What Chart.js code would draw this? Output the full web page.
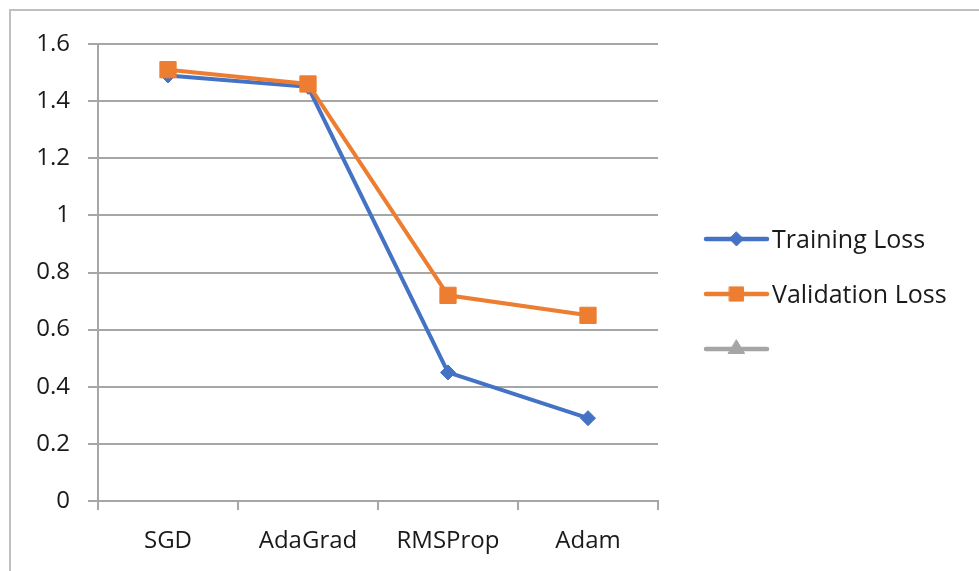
<!DOCTYPE html>
<html><head><meta charset="utf-8">
<script src="https://cdn.jsdelivr.net/npm/chart.js@4/dist/chart.umd.min.js"></script>
<style>html,body{margin:0;padding:0;background:#fff;overflow:hidden}#wrap{width:979px;height:571px;position:relative}</style>
</head><body><div id="wrap"><canvas id="c" width="979" height="571"></canvas></div>
<script>
const categories = ['SGD', 'AdaGrad', 'RMSProp', 'Adam'];
const trainingLoss = [1.49, 1.45, 0.45, 0.29];
const validationLoss = [1.51, 1.46, 0.72, 0.65];
const thirdSeries = [null, null, null, null];
const seriesLabels = ['Training Loss', 'Validation Loss', ''];
const yMin = 0, yMax = 1.6, yStep = 0.2;

const FONT = "'Open Sans', sans-serif";
const TXT = '#1a1a1a';
const GRID = '#a6a6a6';

function drawMarker(ctx, style, x, y, r, color) {
  ctx.save();
  ctx.fillStyle = color; ctx.strokeStyle = color; ctx.lineWidth = 1;
  ctx.beginPath();
  if (style === 'rectRot') {
    ctx.moveTo(x, y - r); ctx.lineTo(x + r, y); ctx.lineTo(x, y + r); ctx.lineTo(x - r, y);
  } else if (style === 'rect') {
    const s = r * Math.SQRT1_2;
    ctx.rect(x - s, y - s, 2 * s, 2 * s);
  } else if (style === 'triangle') {
    ctx.moveTo(x, y - r); ctx.lineTo(x + r * 0.9, y + r * 0.5); ctx.lineTo(x - r * 0.9, y + r * 0.5);
  }
  ctx.closePath(); ctx.fill(); ctx.stroke();
  ctx.restore();
}

const framePlugin = {
  id: 'frame',
  beforeDraw(chart) {
    const ctx = chart.ctx;
    ctx.save();
    ctx.fillStyle = '#fff';
    ctx.fillRect(0, 0, chart.width, chart.height);
    ctx.strokeStyle = '#bfbfbf'; ctx.lineWidth = 2;
    ctx.strokeRect(10, 10, 2000, 2000);
    ctx.restore();
  }
};

const legendPlugin = {
  id: 'customLegend',
  afterDraw(chart) {
    const ctx = chart.ctx;
    const legendMarkerSize = [7, 10, 9];
    chart.data.datasets.forEach((ds, i) => {
      const y = 239 + i * 55;
      const x0 = 706, x1 = 767;
      ctx.save();
      ctx.strokeStyle = ds.borderColor; ctx.lineWidth = 4.5; ctx.lineCap = 'round';
      ctx.beginPath(); ctx.moveTo(x0, y); ctx.lineTo(x1, y); ctx.stroke();
      drawMarker(ctx, ds.pointStyle, (x0 + x1) / 2, y, legendMarkerSize[i], ds.borderColor);
      ctx.fillStyle = TXT; ctx.font = "25px " + FONT; ctx.textBaseline = 'middle'; ctx.textAlign = 'left';
      ctx.fillText(ds.label, 772, y + 1.5);
      ctx.restore();
    });
  }
};

new Chart(document.getElementById('c'), {
  type: 'line',
  data: {
    labels: categories,
    datasets: [
      { label: seriesLabels[0], data: trainingLoss, borderColor: '#4472C4', backgroundColor: '#4472C4',
        borderWidth: 4, pointStyle: 'rectRot', pointRadius: 7.5, pointBorderWidth: 1, tension: 0, order: 1 },
      { label: seriesLabels[1], data: validationLoss, borderColor: '#ED7D31', backgroundColor: '#ED7D31',
        borderWidth: 4, pointStyle: 'rect', pointRadius: 11.5, pointBorderWidth: 1, tension: 0, order: 0 },
      { label: seriesLabels[2], data: thirdSeries, borderColor: '#A5A5A5', backgroundColor: '#A5A5A5',
        borderWidth: 4, pointStyle: 'triangle', pointRadius: 7, tension: 0, order: 2 }
    ]
  },
  options: {
    responsive: false,
    animation: false,
    devicePixelRatio: 1,
    layout: { padding: { left: 0, right: 321, top: 44, bottom: 0 } },
    plugins: { legend: { display: false }, tooltip: { enabled: false } },
    scales: {
      x: {
        offset: true,
        grid: { offset: true, drawOnChartArea: false, drawTicks: true, tickLength: 9, color: GRID, lineWidth: 2 },
        border: { display: true, color: GRID, width: 2 },
        ticks: { color: TXT, font: { family: FONT, size: 24 }, padding: 17, maxRotation: 0 },
        afterFit(s) { s.height = 70; }
      },
      y: {
        min: yMin, max: yMax,
        grid: { color: GRID, lineWidth: 2, tickLength: 10, drawTicks: true },
        border: { display: true, color: GRID, width: 2 },
        ticks: { stepSize: yStep, color: TXT, font: { family: FONT, size: 24 }, padding: 18,
          callback: v => String(Math.round(v * 10) / 10) },
        afterFit(s) { s.width = 98; }
      }
    }
  },
  plugins: [framePlugin, legendPlugin]
});
</script>
</body></html>
